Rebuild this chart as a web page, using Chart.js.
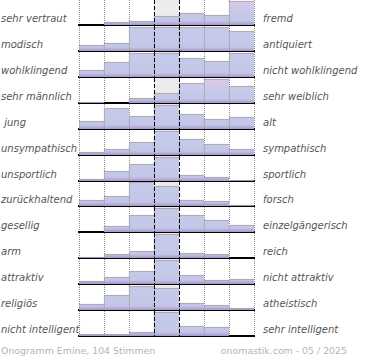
<!DOCTYPE html>
<html>
<head>
<meta charset="utf-8">
<script src="https://cdn.jsdelivr.net/npm/chart.js@4.4.0/dist/chart.umd.min.js"></script>
<style>
  body { margin:0; background:#fff; width:370px; height:360px; position:relative; overflow:hidden; font-family:"DejaVu Sans", sans-serif; }
  canvas.row { position:absolute; left:78px; }
  .lbl { position:absolute; font-size:10px; font-style:italic; color:#555; line-height:12px; white-space:pre; }
  .foot { position:absolute; top:345px; font-size:9.4px; color:#b4b4b4; line-height:11px; white-space:pre; }
</style>
</head>
<body>
<div id="wrap"></div>
<div class="foot" style="left:1px">Onogramm Emine, 104 Stimmen</div>
<div class="foot" style="right:23px">onomastik.com - 05 / 2025</div>
<script>
// left / right poles of every row
const leftLabels = ['sehr vertraut', 'modisch', 'wohlklingend', 'sehr männlich', ' jung', 'unsympathisch',
  'unsportlich', 'zurückhaltend', 'gesellig', 'arm', 'attraktiv', 'religiös', 'nicht intelligent'];
const rightLabels = ['fremd', 'antiquiert', 'nicht wohlklingend', 'sehr weiblich', 'alt', 'sympathisch',
  'sportlich', 'forsch', 'einzelgängerisch', 'reich', 'nicht attraktiv', 'atheistisch', 'sehr intelligent'];
const steps = ['1', '2', '3', '4', '5', '6', '7'];

// votes per step (relative)
const rowVertraut     = [0, 3, 4, 9, 12, 10, 24];
const rowModisch      = [6, 8, 24, 24, 24, 24, 20];
const rowWohlklingend = [7, 15, 24, 24, 19, 16, 24];
const rowMaennlich    = [1, 0, 5, 10, 20, 24, 17];
const rowJung         = [8, 21, 13, 24, 15, 10, 12];
const rowUnsympath    = [3, 6, 13, 24, 16, 11, 6];
const rowUnsportlich  = [2, 10, 17, 24, 6, 4, 1];
const rowZurueck      = [6, 10, 24, 20, 6, 5, 1];
const rowGesellig     = [0, 6, 17, 24, 17, 12, 7];
const rowArm          = [1, 4, 7, 24, 5, 4, 0];
const rowAttraktiv    = [3, 7, 13, 24, 9, 4, 5];
const rowReligioes    = [6, 15, 24, 22, 7, 5, 2];
const rowIntelligent  = [2, 2, 4, 24, 10, 9, 0];

const rows = [rowVertraut, rowModisch, rowWohlklingend, rowMaennlich, rowJung, rowUnsympath,
  rowUnsportlich, rowZurueck, rowGesellig, rowArm, rowAttraktiv, rowReligioes, rowIntelligent];

// bars that turn pinkish towards the top
const pinkBars = { 0: [6], 3: [4, 5, 6] };

const wrap = document.getElementById('wrap');

function barFill(rowIdx) {
  return function (c) {
    const area = c.chart.chartArea;
    if (!area) return '#c4c9e9';
    const pink = (pinkBars[rowIdx] || []).includes(c.dataIndex);
    const g = c.chart.ctx.createLinearGradient(0, area.bottom, 0, area.top);
    g.addColorStop(0, '#a597c8');
    g.addColorStop(0.15, '#c2c5e7');
    g.addColorStop(0.45, '#c5c9e9');
    g.addColorStop(1, pink ? '#dec8e8' : '#c5cae9');
    return g;
  };
}

rows.forEach(function (vals, i) {
  const base = 25 + Math.round(25.92 * i);
  const cv = document.createElement('canvas');
  cv.className = 'row';
  cv.width = 177;
  cv.height = 27;
  cv.style.top = (base - 25) + 'px';
  cv.style.zIndex = 30 - i;
  wrap.appendChild(cv);

  const top = Math.max(...vals) * 25 / 24;

  new Chart(cv, {
    type: 'bar',
    data: {
      labels: steps,
      datasets: [{
        data: vals,
        grouped: false,
        backgroundColor: barFill(i),
        borderColor: '#a2a2a2',
        borderWidth: { left: 1, right: 0, top: 1, bottom: 0 },
        borderSkipped: false,
        categoryPercentage: 1,
        barPercentage: 1
      }, {
        // light grey behind the neutral middle step
        data: steps.map((s, j) => j === 3 ? top : null),
        grouped: false,
        backgroundColor: '#ececec',
        borderWidth: 0,
        categoryPercentage: 1,
        barPercentage: 1
      }]
    },
    options: {
      responsive: false,
      animation: false,
      layout: { padding: { left: 1, right: 1, top: 0, bottom: 2 } },
      plugins: { legend: { display: false }, tooltip: { enabled: false } },
      scales: {
        x: {
          ticks: { display: false },
          grid: {
            offset: true,
            drawTicks: false,
            color: c => (c.index === 3 || c.index === 4) ? 'rgba(0,0,0,0)' : '#8c8c8c'
          },
          border: { display: true, color: '#000', width: 2, dash: [1, 1] }
        },
        x2: {
          type: 'category',
          labels: steps,
          position: 'bottom',
          ticks: { display: false },
          grid: {
            offset: true,
            drawTicks: false,
            z: 1,
            color: c => (c.index === 3 || c.index === 4) ? '#000' : 'rgba(0,0,0,0)'
          },
          border: { display: false, dash: [4, 2] }
        },
        y: { display: false, min: 0, max: top }
      }
    }
  });

  const l = document.createElement('div');
  l.className = 'lbl';
  l.style.left = '1px';
  l.style.top = (base - 12) + 'px';
  l.textContent = leftLabels[i];
  wrap.appendChild(l);

  const r = document.createElement('div');
  r.className = 'lbl';
  r.style.left = '263px';
  r.style.top = (base - 12) + 'px';
  r.textContent = rightLabels[i];
  wrap.appendChild(r);
});
</script>
</body>
</html>
